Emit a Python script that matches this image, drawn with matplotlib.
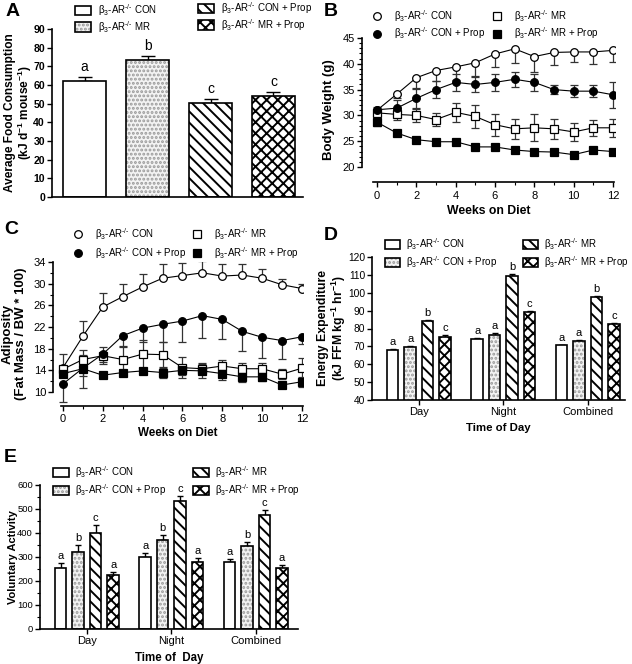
import matplotlib

matplotlib.use("Agg")
import matplotlib.pyplot as plt
from matplotlib.patches import Patch
from matplotlib.lines import Line2D
from matplotlib.legend_handler import HandlerTuple
from matplotlib.ticker import MultipleLocator
import numpy as np

plt.rcParams["font.family"] = ["Liberation Sans", "DejaVu Sans"]
plt.rcParams["mathtext.fontset"] = "custom"
plt.rcParams["mathtext.rm"] = "Liberation Sans"
plt.rcParams["mathtext.it"] = "Liberation Sans:italic"
plt.rcParams["mathtext.bf"] = "Liberation Sans:bold"
plt.rcParams["hatch.linewidth"] = 1.4
plt.rcParams["axes.linewidth"] = 1.2

# ---- panel A: food consumption
foodLabels = ["CON", "MR", "CON + Prop", "MR + Prop"]
foodMean = [62.2, 73.2, 50.4, 54.2]
foodSem = [2.0, 2.5, 2.0, 2.0]
foodLetters = ["a", "b", "c", "c"]

# ---- panel B: body weight (g)
weeks = [0, 1, 2, 3, 4, 5, 6, 7, 8, 9, 10, 11, 12]
bwCon = [31.0, 34.1, 37.3, 38.7, 39.4, 40.2, 41.9, 42.9, 41.4, 42.2, 42.3, 42.3, 42.6]
bwConErr = [0.5, 0.8, 2.0, 2.0, 2.5, 2.5, 2.5, 2.7, 3.0, 2.5, 2.0, 2.4, 2.3]
bwConProp = [31.1, 31.4, 33.3, 35.0, 36.4, 36.0, 36.4, 37.0, 36.4, 35.0, 34.7, 34.7, 34.0]
bwConPropErr = [0.6, 1.5, 1.8, 1.6, 1.7, 1.5, 1.7, 1.5, 1.7, 0.9, 1.2, 1.2, 2.5]
bwMr = [30.5, 30.2, 30.0, 29.2, 30.6, 29.8, 28.2, 27.4, 27.6, 27.4, 26.8, 27.6, 27.6]
bwMrErr = [0.5, 1.0, 1.2, 1.3, 1.8, 2.3, 2.1, 2.0, 2.6, 2.0, 1.8, 1.6, 1.7]
bwMrProp = [28.7, 26.6, 25.3, 24.9, 24.9, 23.9, 23.9, 23.3, 23.0, 22.9, 22.4, 23.3, 23.0]
bwMrPropErr = [0.8, 0.4, 0.4, 0.3, 0.3, 0.4, 0.4, 0.4, 0.4, 0.3, 0.3, 0.3, 0.3]

# ---- panel C: adiposity
adCon = [14.5, 20.3, 25.7, 27.6, 29.4, 31.0, 31.5, 32.0, 31.4, 31.6, 31.0, 29.8, 29.1]
adConErr = [2.6, 2.8, 2.6, 2.4, 2.4, 2.6, 2.3, 2.1, 2.2, 2.1, 1.8, 1.1, 0.8]
adConProp = [11.5, 14.4, 17.0, 20.4, 21.8, 22.5, 23.1, 24.1, 23.4, 21.2, 20.1, 19.5, 20.2]
adConPropErr = [3.3, 1.5, 1.5, 1.9, 2.6, 3.3, 3.8, 4.1, 3.7, 3.7, 3.8, 3.4, 1.3]
adMr = [14.2, 16.0, 16.7, 16.0, 17.0, 16.9, 14.5, 14.3, 14.8, 14.3, 14.3, 13.3, 14.4]
adMrErr = [0.6, 0.8, 1.6, 2.3, 2.6, 2.4, 2.0, 1.0, 1.2, 1.1, 1.0, 0.9, 1.9]
adMrProp = [13.4, 14.3, 13.1, 13.6, 13.9, 13.6, 14.0, 13.9, 13.4, 12.8, 12.8, 11.3, 11.9]
adMrPropErr = [0.6, 3.5, 0.4, 0.4, 0.4, 1.0, 0.8, 1.3, 1.2, 1.0, 0.8, 0.4, 0.9]

# ---- panel D: energy expenditure
timeGroups = ["Day", "Night", "Combined"]
eeCon = [68.2, 74.0, 70.6]
eeConErr = [0.5, 0.5, 0.4]
eeConProp = [69.4, 76.6, 73.0]
eeConPropErr = [0.8, 0.8, 0.5]
eeMr = [84.0, 109.6, 97.5]
eeMrErr = [0.8, 0.9, 0.6]
eeMrProp = [75.3, 89.1, 82.6]
eeMrPropErr = [0.8, 0.9, 0.6]
eeLetters = [["a", "a", "a"], ["a", "a", "a"], ["b", "b", "b"], ["c", "c", "c"]]

# ---- panel E: voluntary activity
vaCon = [255, 298, 278]
vaConErr = [20, 17, 14]
vaConProp = [320, 372, 344]
vaConPropErr = [31, 18, 17]
vaMr = [400, 533, 476]
vaMrErr = [32, 22, 20]
vaMrProp = [223, 280, 254]
vaMrPropErr = [14, 16, 11]
vaLetters = [["a", "a", "a"], ["b", "b", "b"], ["c", "c", "c"], ["a", "a", "a"]]

GENO = r"β$_3$-AR$^{\text{-/-}}$ "

W, H = 632, 664
fig = plt.figure(figsize=(W / 100, H / 100), dpi=100)


def axRect(left, right, top, bottom):
    return fig.add_axes([left / W, 1 - bottom / H, (right - left) / W, (bottom - top) / H])


def styleAxis(ax, labelsize=8):
    for s in ["top", "right"]:
        ax.spines[s].set_visible(False)
    ax.tick_params(direction="out", length=3.5, width=1.0, labelsize=labelsize, pad=1.5)
    ax.tick_params(which="minor", direction="out", length=2, width=0.8)


def barHandle(style):
    if style == "open":
        return Patch(facecolor="white", edgecolor="black", linewidth=1.2)
    if style == "dots":
        return (
            Patch(facecolor="#f3f3f3", edgecolor="#9a9a9a", hatch="....", linewidth=0),
            Patch(facecolor="none", edgecolor="black", linewidth=1.2),
        )
    if style == "diag":
        return Patch(facecolor="white", edgecolor="black", hatch="\\\\\\", linewidth=1.2)
    return Patch(facecolor="white", edgecolor="black", hatch="xxx", linewidth=1.2)


def drawBars(ax, x, heights, errs, style, width, capsize):
    x = np.asarray(x, dtype=float)
    if style == "dots":
        ax.bar(x, heights, width, color="#f3f3f3", edgecolor="#9a9a9a", hatch="....", linewidth=0, zorder=2)
        ax.bar(x, heights, width, color="none", edgecolor="black", linewidth=1.2, zorder=3)
    elif style == "diag":
        ax.bar(x, heights, width, color="white", edgecolor="black", hatch="\\\\\\", linewidth=1.2, zorder=2)
    elif style == "cross":
        ax.bar(x, heights, width, color="white", edgecolor="black", hatch="xxx", linewidth=1.2, zorder=2)
    else:
        ax.bar(x, heights, width, color="white", edgecolor="black", linewidth=1.2, zorder=2)
    ax.errorbar(x, heights, yerr=[np.zeros(len(errs)), errs], fmt="none", ecolor="black",
                elinewidth=1.0, capsize=capsize, capthick=1.0, zorder=1)


def drawLine(ax, x, y, err, marker, filled, direction):
    err = np.asarray(err)
    lower = err if direction in ("both", "down") else np.zeros(len(err))
    upper = err if direction in ("both", "up") else np.zeros(len(err))
    ax.errorbar(x, y, yerr=[lower, upper], fmt="none", ecolor="#333333", elinewidth=0.9,
                capsize=2.8, capthick=0.9, zorder=2)
    ax.plot(x, y, color="black", linewidth=0.8, marker=marker, markersize=5.5,
            markerfacecolor="black" if filled else "white", markeredgecolor="black",
            markeredgewidth=0.9, zorder=3)


def legendColumn(handles, labels, x, y, textpad, hlen, hheight, spacing, fs=7):
    leg = fig.legend(handles, labels, loc="upper left", bbox_to_anchor=(x / W, 1 - y / H),
                     frameon=False, fontsize=fs, borderpad=0, borderaxespad=0,
                     handlelength=hlen, handleheight=hheight, handletextpad=textpad,
                     labelspacing=spacing, handler_map={tuple: HandlerTuple(ndivide=1, pad=0)})
    return leg


def panelLetter(x, y, s):
    fig.text(x / W, 1 - y / H, s, fontsize=14, fontweight="bold", va="center", ha="left")


def yLabel(ax, text, xcoord, fs=8, ls=1.15):
    ax.set_ylabel(text, fontsize=fs, fontweight="bold", linespacing=ls)
    ax.yaxis.set_label_coords(xcoord, 0.5)


# ================= A =================
axA = axRect(52, 303, 29, 197)
styleAxis(axA)
aStyles = ["open", "dots", "diag", "cross"]
for i in range(len(foodMean)):
    drawBars(axA, [i], [foodMean[i]], [foodSem[i]], aStyles[i], 0.68, 5)
    axA.annotate(foodLetters[i], (i, foodMean[i] + foodSem[i]), xytext=(0, 2),
                 textcoords="offset points", ha="center", va="bottom", fontsize=10)
axA.set_xlim(-0.52, 3.47)
axA.set_ylim(0, 90)
axA.yaxis.set_major_locator(MultipleLocator(10))
axA.set_xticks([])
axA.tick_params(axis="y", labelsize=7.6)
for t in axA.get_yticklabels():
    t.set_fontweight("bold")
yLabel(axA, "Average Food Consumption\n" + r"(kJ d$^{\mathbf{-1}}$ mouse$^{\mathbf{-1}}$)",
       -0.07, 8.6, 1.05)
legendColumn([barHandle("open"), barHandle("dots")],
             [GENO + foodLabels[0], GENO + foodLabels[1]], 75, 2, 0.8, 1.6, 1.15, 0.1)
legendColumn([barHandle("diag"), barHandle("cross")],
             [GENO + foodLabels[2], GENO + foodLabels[3]], 198, 0, 0.8, 1.6, 1.15, 0.1)
panelLetter(6, 12, "A")

# ================= B =================
axB = axRect(362, 615, 38, 182)
styleAxis(axB)
drawLine(axB, weeks, bwCon, bwConErr, "o", False, "down")
drawLine(axB, weeks, bwMr, bwMrErr, "s", False, "both")
drawLine(axB, weeks, bwConProp, bwConPropErr, "o", True, "both")
drawLine(axB, weeks, bwMrProp, bwMrPropErr, "s", True, "both")
axB.set_xlim(-0.76, 12.1)
axB.set_ylim(17.1, 45)
axB.spines["left"].set_bounds(20, 45)
axB.spines["bottom"].set_bounds(-0.2, 12.05)
axB.xaxis.set_major_locator(MultipleLocator(2))
axB.xaxis.set_minor_locator(MultipleLocator(1))
axB.set_yticks([20, 25, 30, 35, 40, 45])
axB.set_yticks([t for t in range(20, 46) if t % 5], minor=True)
axB.tick_params(axis="x", pad=3)
axB.set_xlabel("Weeks on Diet", fontsize=8.8, fontweight="bold", labelpad=3)
yLabel(axB, "Body Weight (g)", -0.105, 9.5)


def mk(marker, filled):
    return Line2D([], [], linestyle="none", marker=marker, markersize=5.5,
                  markerfacecolor="black" if filled else "white", markeredgecolor="black",
                  markeredgewidth=0.9)


legendColumn([mk("o", False), mk("o", True)], [GENO + "CON", GENO + "CON + Prop"],
             372, 8, 1.3, 1.0, 0.7, 0.15)
legendColumn([mk("s", False), mk("s", True)], [GENO + "MR", GENO + "MR + Prop"],
             492, 8, 1.3, 1.0, 0.7, 0.15)
panelLetter(324, 12, "B")

# ================= C =================
axC = axRect(53, 303, 262, 406)
styleAxis(axC)
drawLine(axC, weeks, adCon, adConErr, "o", False, "up")
drawLine(axC, weeks, adMr, adMrErr, "s", False, "both")
drawLine(axC, weeks, adConProp, adConPropErr, "o", True, "down")
drawLine(axC, weeks, adMrProp, adMrPropErr, "s", True, "both")
axC.set_xlim(-0.5, 12.05)
axC.set_ylim(7.42, 34)
axC.spines["left"].set_bounds(10, 34)
axC.spines["bottom"].set_bounds(-0.1, 12.05)
axC.xaxis.set_major_locator(MultipleLocator(2))
axC.xaxis.set_minor_locator(MultipleLocator(1))
axC.set_yticks([10, 14, 18, 22, 26, 30, 34])
axC.set_yticks([12, 16, 20, 24, 28, 32], minor=True)
axC.tick_params(axis="x", pad=2.5)
axC.set_xlabel("Weeks on Diet", fontsize=8.4, fontweight="bold", labelpad=2)
yLabel(axC, "Adiposity\n(Fat Mass / BW * 100)", -0.105, 9.5)
legendColumn([mk("o", False), mk("o", True)], [GENO + "CON", GENO + "CON + Prop"],
             73, 226, 1.3, 1.0, 0.7, 0.3)
legendColumn([mk("s", False), mk("s", True)], [GENO + "MR", GENO + "MR + Prop"],
             192, 226, 1.3, 1.0, 0.7, 0.3)
panelLetter(4, 230, "C")

# ================= D & E =================
STEP = 0.207
BW = 0.136
groupStyles = ["open", "dots", "diag", "cross"]


def groupedBars(ax, series, errs, letters, fs):
    xg = np.arange(len(timeGroups))
    for k in range(4):
        xs = xg + (k - 1.5) * STEP
        drawBars(ax, xs, series[k], errs[k], groupStyles[k], BW, 2.5)
        for j in range(len(xs)):
            ax.annotate(letters[k][j], (xs[j], series[k][j] + errs[k][j]), xytext=(0, 1.5),
                        textcoords="offset points", ha="center", va="bottom", fontsize=fs)
    ax.set_xticks(xg)
    ax.set_xticklabels(timeGroups)


axD = axRect(372, 625, 257, 400)
styleAxis(axD, 7.4)
groupedBars(axD, [eeCon, eeConProp, eeMr, eeMrProp],
            [eeConErr, eeConPropErr, eeMrErr, eeMrPropErr], eeLetters, 8)
axD.tick_params(axis="x", labelsize=8)
axD.set_xlim(-0.556, 2.44)
axD.set_ylim(40, 120)
axD.yaxis.set_major_locator(MultipleLocator(10))
axD.set_xlabel("Time of Day", fontsize=8.2, fontweight="bold", labelpad=4)
yLabel(axD, "Energy Expenditure\n" + r"(kJ FFM kg$^{\mathbf{-1}}$ hr$^{\mathbf{-1}}$)",
       -0.094, 8.8, 1.05)
legendColumn([barHandle("open"), barHandle("dots")], [GENO + "CON", GENO + "CON + Prop"],
             385, 236, 0.7, 1.5, 1.0, 0.22)
legendColumn([barHandle("diag"), barHandle("cross")], [GENO + "MR", GENO + "MR + Prop"],
             523, 236, 0.7, 1.5, 1.0, 0.22)
panelLetter(324, 235, "D")

axE = axRect(40, 298, 485, 629)
styleAxis(axE, 6.8)
groupedBars(axE, [vaCon, vaConProp, vaMr, vaMrProp],
            [vaConErr, vaConPropErr, vaMrErr, vaMrPropErr], vaLetters, 8)
axE.tick_params(axis="x", labelsize=8)
axE.set_xlim(-0.556, 2.5)
axE.set_ylim(0, 600)
axE.yaxis.set_major_locator(MultipleLocator(100))
axE.yaxis.set_minor_locator(MultipleLocator(50))
axE.set_xlabel("Time of  Day", fontsize=8.3, fontweight="bold", labelpad=4)
yLabel(axE, "Voluntary Activity", -0.085, 8)
legendColumn([barHandle("open"), barHandle("dots")], [GENO + "CON", GENO + "CON + Prop"],
             53, 464, 0.7, 1.6, 1.0, 0.2)
legendColumn([barHandle("diag"), barHandle("cross")], [GENO + "MR", GENO + "MR + Prop"],
             193, 464, 0.7, 1.6, 1.0, 0.2)
panelLetter(4, 458, "E")

fig.savefig("out.png", dpi=100)
